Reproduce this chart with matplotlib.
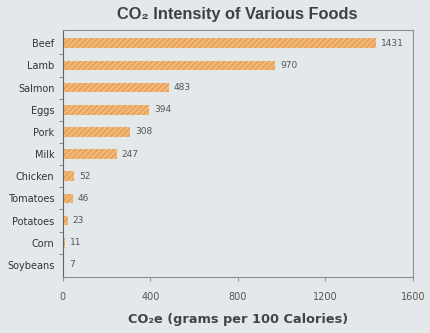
import matplotlib.pyplot as plt

FOODS = ['Beef', 'Lamb', 'Salmon', 'Eggs', 'Pork', 'Milk', 'Chicken',
         'Tomatoes', 'Potatoes', 'Corn', 'Soybeans']
CO2E = [1431, 970, 483, 394, 308, 247, 52, 46, 23, 11, 7]
XTICKS = [0, 400, 800, 1200, 1600]

BG = '#e3e9eb'
BAR = '#eba55c'
GRAY = '#555555'


def main():
    plt.rcParams['hatch.color'] = '#f4c790'
    plt.rcParams['hatch.linewidth'] = 0.8

    fig = plt.figure(figsize=(4.31, 3.33), dpi=100, facecolor=BG)
    ax = fig.add_axes([0.146, 0.168, 0.812, 0.742], facecolor=BG)

    y = list(range(len(FOODS)))
    ax.barh(y, CO2E, height=0.44, color=BAR, hatch='//////',
            edgecolor='#f4c790', linewidth=0)
    for yi, v in zip(y, CO2E):
        ax.text(v + 22, yi, str(v), va='center', ha='left',
                fontsize=6.5, color=GRAY, family='DejaVu Sans')

    ax.set_ylim(len(FOODS) - 0.45, -0.6)
    ax.set_xlim(0, 1600)
    ax.set_yticks(y)
    ax.set_yticklabels(FOODS, fontsize=7, color='#333333')
    ax.set_yticks([i + 0.5 for i in y[:-1]], minor=True)
    ax.set_xticks(XTICKS)
    ax.set_xticklabels([str(t) for t in XTICKS], fontsize=7, color=GRAY)
    ax.tick_params(axis='y', which='major', length=0, pad=6)
    ax.tick_params(axis='y', which='minor', length=3, color='#777777')
    ax.tick_params(axis='x', length=3, color='#999999', pad=8)
    for s in ax.spines.values():
        s.set_color('#8a8f92')
        s.set_linewidth(0.8)
    ax.spines['left'].set_color('#666666')

    ax.set_xlabel('CO\u2082e (grams per 100 Calories)', fontsize=9.3,
                  fontweight='bold', color='#444444', labelpad=8,
                  family=['DejaVu Sans'])
    fig.suptitle('CO\u2082 Intensity of Various Foods', x=0.55, y=0.978,
                 fontsize=11.8, fontweight='bold', color='#404040',
                 family=['Liberation Sans', 'DejaVu Sans'])

    fig.savefig('out.png', dpi=100, facecolor=BG)
    plt.close(fig)


if __name__ == '__main__':
    main()
